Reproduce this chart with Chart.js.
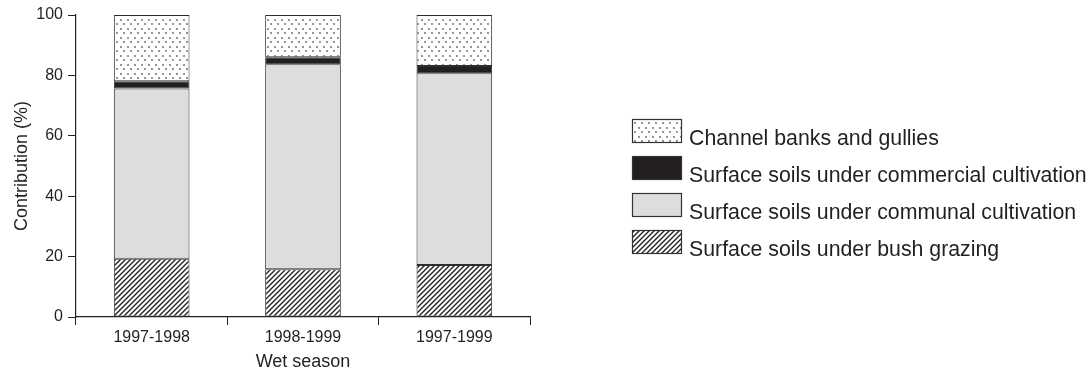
<!DOCTYPE html>
<html>
<head>
<meta charset="utf-8">
<script src="https://cdn.jsdelivr.net/npm/chart.js@4.4.0/dist/chart.umd.min.js"></script>
<style>
  html, body { margin: 0; padding: 0; background: #fff; }
  #wrap { width: 1092px; height: 374px; position: relative; }
</style>
</head>
<body>
<div id="wrap"><canvas id="grafico"></canvas></div>
<script>
// Dados
const estacoes = ['1997-1998', '1998-1999', '1997-1999'];
const pastagem = [19.3, 15.8, 17.2];      // bush grazing
const comunal = [56.4, 67.9, 63.5];       // communal cultivation
const comercial = [2.4, 2.3, 2.4];        // commercial cultivation
const canais = [21.9, 14.0, 16.9];        // channel banks and gullies
const rotulosY = [0, 20, 40, 60, 80, 100];

const fonte = "'Liberation Sans', Arial, Helvetica, sans-serif";
const corTexto = '#231f20';

// Padrão hachurado (diagonal /)
function padraoHachura() {
    const c = document.createElement('canvas');
    c.width = 5; c.height = 5;
    const g = c.getContext('2d');
    g.fillStyle = '#fff';
    g.fillRect(0, 0, 5, 5);
    g.strokeStyle = '#222';
    g.lineWidth = 1.4;
    g.beginPath();
    g.moveTo(-1, 6); g.lineTo(6, -1);
    g.moveTo(-1, 1); g.lineTo(1, -1);
    g.moveTo(4, 6); g.lineTo(6, 4);
    g.stroke();
    return g.createPattern(c, 'repeat');
}

// Padrão pontilhado
function padraoPontos() {
    const c = document.createElement('canvas');
    c.width = 7; c.height = 9;
    const g = c.getContext('2d');
    g.fillStyle = '#fff';
    g.fillRect(0, 0, 7, 9);
    g.fillStyle = '#959595';
    g.fillRect(1, 1, 2, 2);
    g.fillRect(4, 5, 2, 2);
    return g.createPattern(c, 'repeat');
}

const hachura = padraoHachura();
const pontos = padraoPontos();

const datasets = [
    { label: 'Surface soils under bush grazing', data: pastagem, backgroundColor: hachura },
    { label: 'Surface soils under communal cultivation', data: comunal, backgroundColor: '#dcdddf' },
    { label: 'Surface soils under commercial cultivation', data: comercial, backgroundColor: '#231f20' },
    { label: 'Channel banks and gullies', data: canais, backgroundColor: pontos },
].map(d => ({
    ...d,
    borderColor: '#2e2e2e',
    borderWidth: 1,
    borderSkipped: false,
    categoryPercentage: 0.5,
    barPercentage: 1,
}));

// Legenda desenhada à mão (ordem invertida, como na figura)
const legendaManual = {
    id: 'legendaManual',
    afterDraw(chart) {
        const ctx = chart.ctx;
        const x = 632, w = 50, h = 24, passo = 37;
        let y = 119;
        ctx.save();
        ctx.font = `21.3px ${fonte}`;
        ctx.textBaseline = 'alphabetic';
        ctx.textAlign = 'left';
        for (let i = chart.data.datasets.length - 1; i >= 0; i--) {
            const ds = chart.data.datasets[i];
            ctx.fillStyle = ds.backgroundColor;
            ctx.fillRect(x, y, w, h);
            ctx.strokeStyle = '#333';
            ctx.lineWidth = 1.2;
            ctx.strokeRect(x + 0.5, y + 0.5, w - 1, h - 1);
            ctx.fillStyle = corTexto;
            ctx.fillText(ds.label, x + w + 7, y + h + 2);
            y += passo;
        }
        ctx.restore();
    }
};

const ctx = document.getElementById('grafico').getContext('2d');
new Chart(ctx, {
    type: 'bar',
    data: { labels: estacoes, datasets },
    options: {
        responsive: true,
        maintainAspectRatio: false,
        animation: false,
        layout: { padding: { top: 15, right: 562, left: 0, bottom: 0 } },
        plugins: {
            legend: { display: false },
            tooltip: { enabled: false },
        },
        scales: {
            x: {
                stacked: true,
                offset: true,
                afterFit: s => { s.height = 57; },
                grid: {
                    offset: true,
                    drawOnChartArea: false,
                    drawTicks: true,
                    tickLength: 8,
                    color: '#222',
                    lineWidth: 1,
                },
                border: { display: true, color: '#222', width: 1.2 },
                ticks: { color: corTexto, font: { family: fonte, size: 16 }, padding: 3, maxRotation: 0 },
                title: {
                    display: true,
                    text: 'Wet season',
                    color: corTexto,
                    font: { family: fonte, size: 18 },
                    padding: { top: 0, bottom: 1 },
                },
            },
            y: {
                stacked: true,
                min: 0,
                max: 100,
                afterFit: s => { s.width = 76; },
                afterBuildTicks: s => { s.ticks = rotulosY.map(v => ({ value: v })); },
                grid: {
                    drawOnChartArea: false,
                    drawTicks: true,
                    tickLength: 8,
                    color: '#222',
                    lineWidth: 1,
                },
                border: { display: true, color: '#222', width: 1.2 },
                ticks: { color: corTexto, font: { family: fonte, size: 16 }, padding: 5 },
                title: {
                    display: true,
                    text: 'Contribution (%)',
                    color: corTexto,
                    font: { family: fonte, size: 18 },
                    padding: { top: 11, bottom: 0 },
                },
            },
        },
    },
    plugins: [legendaManual],
});
</script>
</body>
</html>
